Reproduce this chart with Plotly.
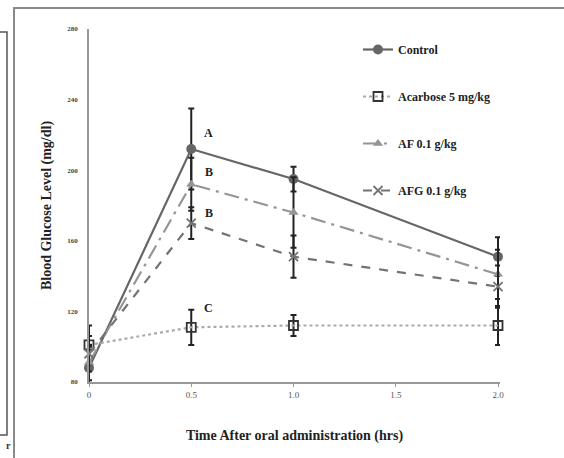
import plotly.graph_objects as go

# ---- data ----
times = [0, 0.5, 1.0, 2.0]
series_names = ["Control", "Acarbose 5 mg/kg", "AF 0.1 g/kg", "AFG 0.1 g/kg"]
control = [88, 212, 195, 151]
control_err = [12, 23, 7, 11]
acarbose = [101, 111, 112, 112]
acarbose_err = [11, 10, 6, 11]
af = [91, 192, 176, 141]
af_err = [10, 15, 20, 14]
afg = [96, 170, 151, 134]
afg_err = [10, 9, 12, 12]
letters = ["A", "B", "B", "C"]
letter_y = [221, 199, 176, 122]
x_ticks = [0, 0.5, 1.0, 1.5, 2.0]
x_ticklabels = ["0", "0.5", "1.0", "1.5", "2.0"]
y_ticks = [80, 120, 160, 200, 240, 280]

W, H = 564, 458
L, R, T, B = 89, 64, 29, 76

def px_x(px):
    return (px - L) / (W - L - R)

def px_y(py):
    return (H - B - py) / (H - T - B)

fig = go.Figure()

styles = [
    dict(vals=control, err=control_err, color="#666666", dash="solid",
         marker=dict(symbol="circle", size=10, color="#666666")),
    dict(vals=acarbose, err=acarbose_err, color="#aaaaaa", dash="dot",
         marker=dict(symbol="square-open", size=9, color="#333333", line=dict(width=1.8, color="#333333"))),
    dict(vals=af, err=af_err, color="#959595", dash="longdashdot",
         marker=dict(symbol="triangle-up", size=9, color="#959595")),
    dict(vals=afg, err=afg_err, color="#737373", dash="dash",
         marker=dict(symbol="x-thin", size=9, color="#737373", line=dict(width=1.8, color="#737373"))),
]

for i, (name, st) in enumerate(zip(series_names, styles)):
    fig.add_trace(go.Scatter(
        x=times, y=st["vals"], name=name, mode="lines+markers",
        legendgroup=f"g{i}",
        line=dict(color=st["color"], width=2.2, dash=st["dash"]),
        marker=st["marker"],
        error_y=dict(type="data", array=st["err"], visible=True,
                     color="#222222", thickness=2, width=3),
        cliponaxis=False,
    ))

for lt, ly in zip(letters, letter_y):
    fig.add_annotation(x=0.585, y=ly, text=lt, showarrow=False,
                       font=dict(family="Liberation Serif", size=12, color="#222222", weight="bold"))

# frame lines from the surrounding figure
fig.add_shape(type="rect", xref="paper", yref="paper",
              x0=px_x(14), x1=px_x(580), y0=px_y(480), y1=px_y(8),
              line=dict(color="#8a8a8a", width=2))
fig.add_shape(type="rect", xref="paper", yref="paper",
              x0=px_x(-10), x1=px_x(7), y0=px_y(435), y1=px_y(32),
              line=dict(color="#555555", width=1.5))
fig.add_annotation(xref="paper", yref="paper", x=px_x(4), y=px_y(453),
                   text="r", showarrow=False,
                   font=dict(family="Liberation Serif", size=10, color="#333333", weight="bold"))

fig.update_layout(
    width=W, height=H,
    margin=dict(l=L, r=R, t=T, b=B),
    paper_bgcolor="white", plot_bgcolor="white",
    font=dict(family="Liberation Serif", color="#222222"),
    showlegend=True,
    legend=dict(x=px_x(358), y=px_y(35), xanchor="left", yanchor="top",
                bgcolor="rgba(0,0,0,0)", tracegroupgap=28,
                font=dict(family="Liberation Serif", size=12, color="#222222", weight="bold"),
                itemwidth=30),
    xaxis=dict(range=[0, 2.0098], tickvals=x_ticks, ticktext=x_ticklabels,
               showgrid=False, zeroline=False, showline=True, linecolor="#999999",
               linewidth=1.5, ticks="outside", ticklen=3, tickcolor="#999999",
               tickfont=dict(size=9, color="#555555"),
               title=dict(text="<b>Time After oral administration (hrs)</b>",
                          font=dict(size=14, color="#222222"), standoff=32)),
    yaxis=dict(range=[80, 280], tickvals=y_ticks,
               showgrid=False, zeroline=False, showline=True, linecolor="#999999",
               linewidth=1.5, ticks="", tickfont=dict(size=7, color="#444444", weight="bold"),
               ticklabelstandoff=8,
               title=dict(text="<b>Blood Glucose Level (mg/dl)</b>",
                          font=dict(size=14, color="#222222"), standoff=12)),
)

fig.write_html("out.html", config={"displayModeBar": False},
               post_script="document.body.style.margin='0';")
